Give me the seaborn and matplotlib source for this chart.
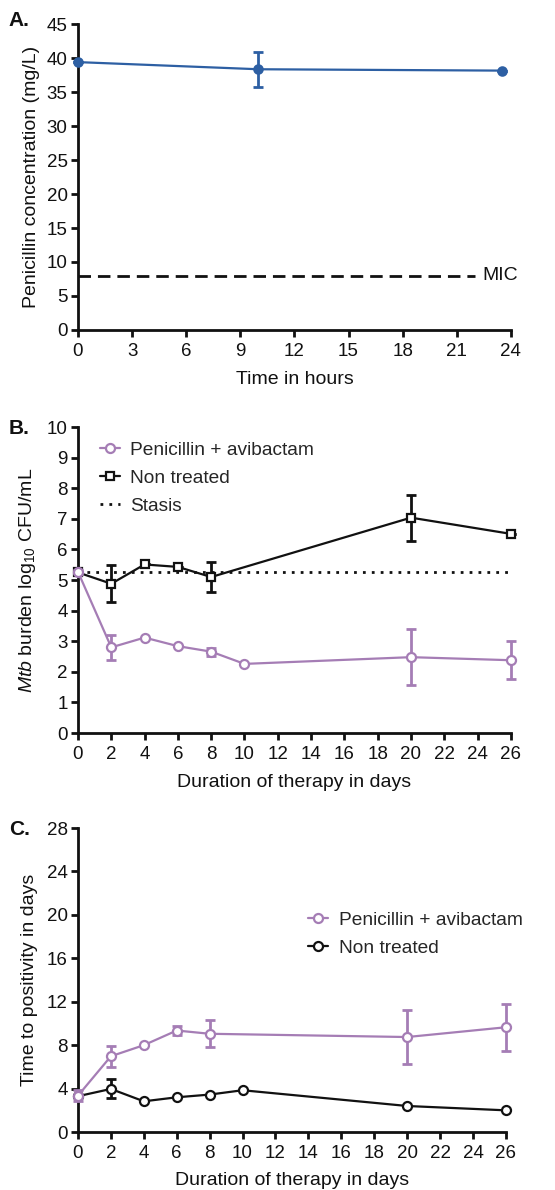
import matplotlib
matplotlib.use("Agg")
import matplotlib.pyplot as plt
import seaborn as sns
import pandas as pd
from matplotlib.lines import Line2D

# ---------------- data ----------------
a_time = [0, 10, 23.5]
a_conc = [39.4, 38.35, 38.15]
a_err = [0, 2.6, 0]
mic_value = 8

b_days_pen = [0, 2, 4, 6, 8, 10, 20, 26]
b_pen = [5.27, 2.80, 3.12, 2.84, 2.66, 2.26, 2.48, 2.38]
b_pen_err = [0.05, 0.41, 0, 0, 0.13, 0, 0.92, 0.63]
b_days_nt = [0, 2, 4, 6, 8, 20, 26]
b_nt = [5.25, 4.88, 5.51, 5.43, 5.10, 7.04, 6.51]
b_nt_err = [0, 0.61, 0, 0, 0.50, 0.75, 0]
stasis_value = 5.26

c_days_pen = [0, 2, 4, 6, 8, 20, 26]
c_pen = [3.35, 6.98, 8.0, 9.35, 9.05, 8.75, 9.65]
c_pen_err = [0.5, 0.97, 0, 0.4, 1.25, 2.45, 2.15]
c_days_nt = [0, 2, 4, 6, 8, 10, 20, 26]
c_nt = [3.3, 3.97, 2.83, 3.2, 3.45, 3.85, 2.4, 2.0]
c_nt_err = [0, 0.87, 0, 0, 0, 0, 0, 0]

a_xticks = list(range(0, 25, 3))
a_yticks = list(range(0, 46, 5))
bc_xticks = list(range(0, 27, 2))
b_yticks = list(range(0, 11))
c_yticks = list(range(0, 29, 4))

lbl_pen = "Penicillin + avibactam"
lbl_nt = "Non treated"

# ---------------- style ----------------
sns.set_theme(style="ticks")
plt.rcParams["font.family"] = ["Liberation Sans", "DejaVu Sans"]
plt.rcParams["mathtext.fontset"] = "custom"
plt.rcParams["mathtext.rm"] = "Liberation Sans"
plt.rcParams["mathtext.it"] = "Liberation Sans:italic"
plt.rcParams["mathtext.bf"] = "Liberation Sans:bold"

BLUE = "#2d5fa3"
PURPLE = "#a57db5"
BLACK = "#111111"
FS_TICK = 13.5
FS_LAB = 14
FS_LEG = 13.8
LW = 1.6

fig = plt.figure(figsize=(5.55, 11.9), dpi=100)
axA = fig.add_axes([0.1405, 0.7227, 0.780, 0.2571])
axB = fig.add_axes([0.1405, 0.3840, 0.780, 0.2571])
axC = fig.add_axes([0.1405, 0.0487, 0.771, 0.2555])


def style_axis(ax):
    sns.despine(ax=ax)
    for s in ["left", "bottom"]:
        ax.spines[s].set_linewidth(2.0)
        ax.spines[s].set_color(BLACK)
    ax.tick_params(axis="both", direction="out", length=5, width=2.0,
                   colors=BLACK, labelsize=FS_TICK, pad=2.5)
    ax.tick_params(axis="x", pad=4.5)
    ax.set_facecolor("white")


def series(ax, x, y, err, color, marker, ms, filled, zorder):
    df = pd.DataFrame({"x": x, "y": y})
    sns.lineplot(data=df, x="x", y="y", ax=ax, color=color, lw=LW,
                 marker=marker, markersize=ms,
                 markerfacecolor=(color if filled else "white"),
                 markeredgecolor=color, markeredgewidth=1.6,
                 zorder=zorder, legend=False, clip_on=False)
    ax.errorbar(x, y, yerr=err, fmt="none", ecolor=color, elinewidth=2.0,
                capsize=3.5, capthick=2.0, zorder=zorder - 0.5, clip_on=False)


# ---------------- Panel A ----------------
style_axis(axA)
series(axA, a_time, a_conc, a_err, BLUE, "o", 6, True, 5)
axA.plot([0, 22.0], [mic_value, mic_value], ls=(0, (4.5, 2.5)), color=BLACK, lw=2.0)
axA.text(22.4, mic_value, "MIC", fontsize=FS_LAB, va="center", ha="left",
         color=BLACK, clip_on=False)
axA.set_xlim(0, 24)
axA.set_ylim(0, 45)
axA.set_xticks(a_xticks)
axA.set_yticks(a_yticks)
axA.set_xlabel("Time in hours", fontsize=FS_LAB, color=BLACK, labelpad=8)
axA.set_ylabel("Penicillin concentration (mg/L)", fontsize=FS_LAB, color=BLACK, labelpad=5)
fig.text(0.016, 0.983, "A.", fontsize=15, fontweight="bold", va="center", color=BLACK)

# ---------------- Panel B ----------------
style_axis(axB)
axB.plot([0, 26], [stasis_value, stasis_value], ls=(0, (1, 2.2)), color=BLACK, lw=2.0, zorder=2)
series(axB, b_days_nt, b_nt, b_nt_err, BLACK, "s", 5.5, False, 5)
series(axB, b_days_pen, b_pen, b_pen_err, PURPLE, "o", 6.5, False, 6)
axB.set_xlim(0, 26)
axB.set_ylim(0, 10)
axB.set_xticks(bc_xticks)
axB.set_yticks(b_yticks)
axB.set_xlabel("Duration of therapy in days", fontsize=FS_LAB, color=BLACK, labelpad=8)
axB.set_ylabel(r"$\it{Mtb}$ burden log$_{10}$ CFU/mL", fontsize=FS_LAB, color=BLACK, labelpad=6)
hB = [
    Line2D([], [], color=PURPLE, lw=LW, marker="o", ms=6.5, mfc="white", mec=PURPLE, mew=1.6),
    Line2D([], [], color=BLACK, lw=LW, marker="s", ms=5.5, mfc="white", mec=BLACK, mew=1.6),
    Line2D([], [], color=BLACK, lw=2.0, ls=(0, (1, 2.2))),
]
axB.legend(hB, [lbl_pen, lbl_nt, "Stasis"], loc="upper left", bbox_to_anchor=(0.028, 0.985),
           frameon=False, fontsize=FS_LEG, handlelength=1.05, handletextpad=0.55,
           labelspacing=0.55, borderaxespad=0.1)
fig.text(0.016, 0.6395, "B.", fontsize=15, fontweight="bold", va="center", color=BLACK)

# ---------------- Panel C ----------------
style_axis(axC)
series(axC, c_days_nt, c_nt, c_nt_err, BLACK, "o", 6.5, False, 5)
series(axC, c_days_pen, c_pen, c_pen_err, PURPLE, "o", 6.5, False, 6)
axC.set_xlim(0, 26)
axC.set_ylim(0, 28)
axC.set_xticks(bc_xticks)
axC.set_yticks(c_yticks)
axC.set_xlabel("Duration of therapy in days", fontsize=FS_LAB, color=BLACK, labelpad=7)
axC.set_ylabel("Time to positivity in days", fontsize=FS_LAB, color=BLACK, labelpad=6)
hC = [
    Line2D([], [], color=PURPLE, lw=LW, marker="o", ms=6.5, mfc="white", mec=PURPLE, mew=1.6),
    Line2D([], [], color=BLACK, lw=LW, marker="o", ms=6.5, mfc="white", mec=BLACK, mew=1.6),
]
axC.legend(hC, [lbl_pen, lbl_nt], loc="upper left", bbox_to_anchor=(0.52, 0.75),
           frameon=False, fontsize=FS_LEG, handlelength=1.05, handletextpad=0.55,
           labelspacing=0.55, borderaxespad=0.0)
fig.text(0.016, 0.303, "C.", fontsize=15, fontweight="bold", va="center", color=BLACK)

fig.savefig("out.png", dpi=100, facecolor="white")
